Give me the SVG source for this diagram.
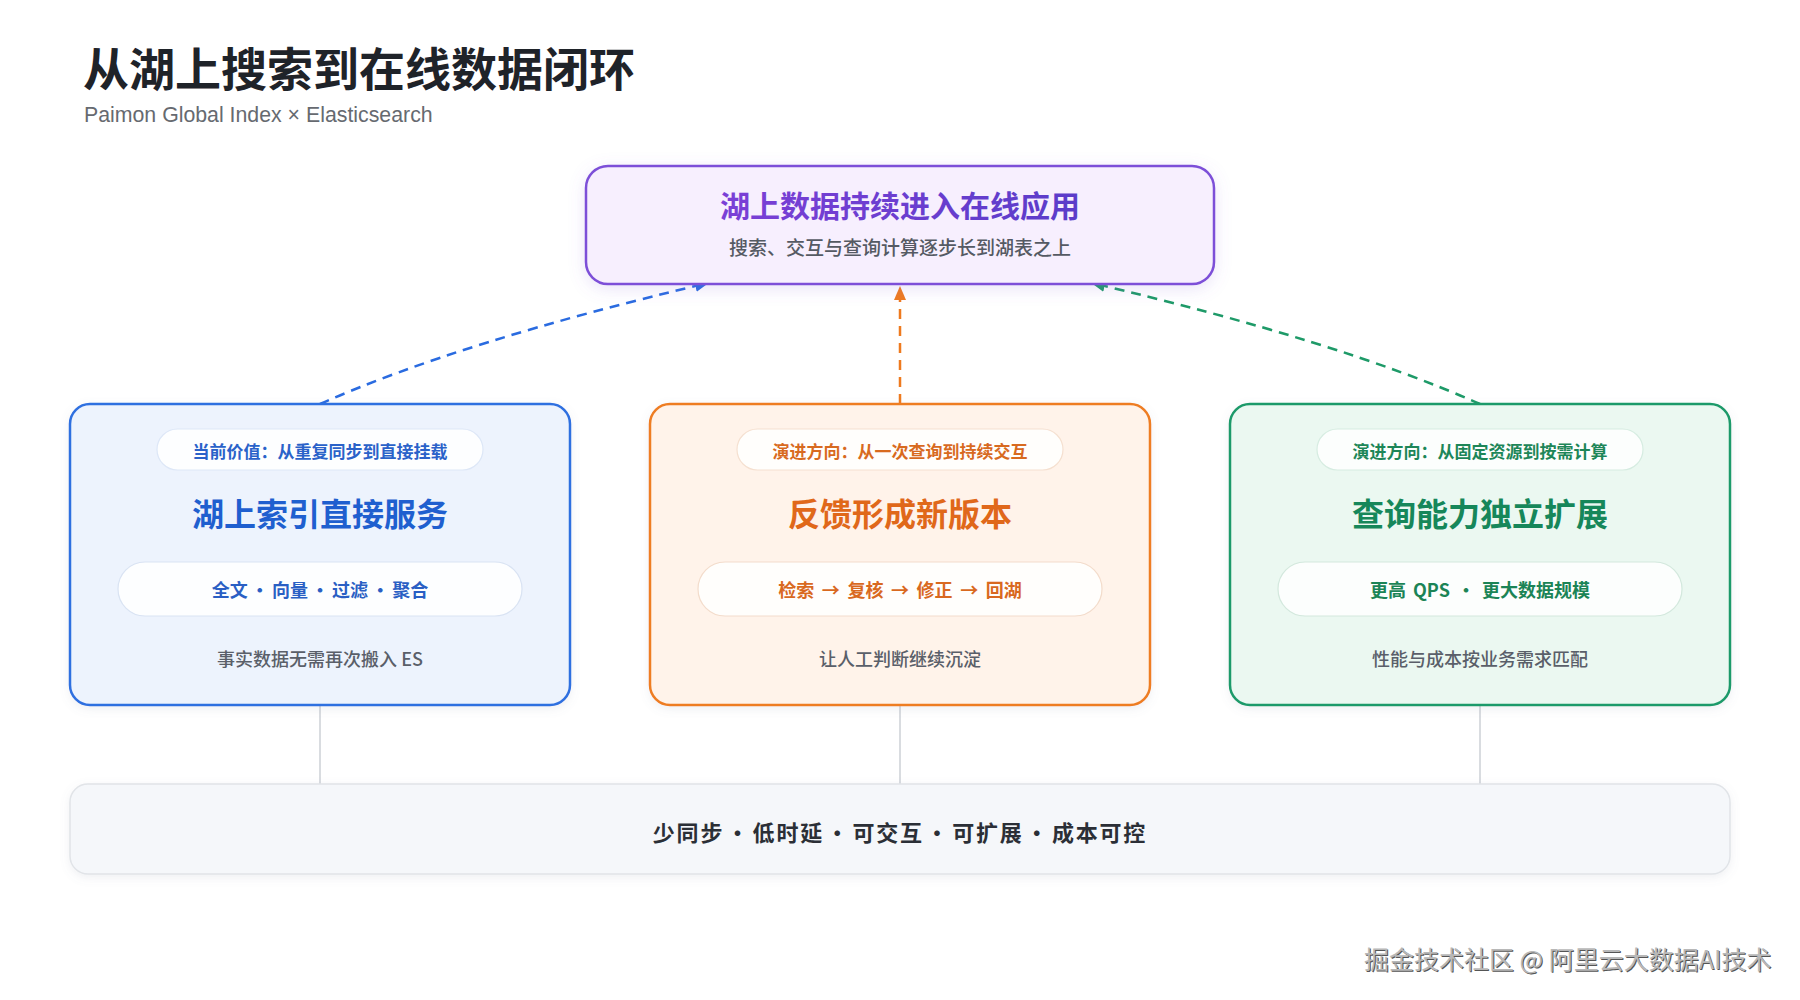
<svg xmlns="http://www.w3.org/2000/svg" width="1800" height="1000" viewBox="0 0 1800 1000">
  <defs>
    <style>
      text { font-family: "Noto Sans CJK SC", "Noto Sans", sans-serif; dominant-baseline: central; text-anchor: middle; }
      .title { font-size: 46px; font-weight: 700; fill: #1f2329; text-anchor: start; }
      .subtitle { font-family: "Liberation Sans", "Noto Sans CJK SC", sans-serif; font-size: 21.3px; fill: #666a70; text-anchor: start; }
      .pill1 { font-size: 17px; font-weight: 600; }
      .head { font-size: 32px; font-weight: 700; }
      .pill2 { font-size: 18px; font-weight: 600; word-spacing: 3px; }
      .foot { font-size: 18px; font-weight: 500; fill: #5a5f69; }
      .card { stroke-width: 2.5; }
      .pill { fill: #ffffff; fill-opacity: 0.85; stroke-width: 1.2; }
      .dash { fill: none; stroke-width: 2.5; stroke-dasharray: 10 7; }
      .vline { stroke: #cdd1d6; stroke-width: 1.5; }
      .wm { font-size: 25px; font-weight: 400; text-anchor: start; }
    </style>
    <filter id="shadow" x="-10%" y="-20%" width="120%" height="150%">
      <feDropShadow dx="0" dy="4" stdDeviation="8" flood-color="#8c6bd8" flood-opacity="0.18"/>
    </filter>
    <filter id="soft" x="-10%" y="-10%" width="120%" height="130%">
      <feDropShadow dx="0" dy="3" stdDeviation="5" flood-color="#7a8599" flood-opacity="0.12"/>
    </filter>
    <linearGradient id="gPurple" x1="0" y1="0" x2="1" y2="0">
      <stop offset="0" stop-color="#7b3fd6"/>
      <stop offset="1" stop-color="#5b3cc9"/>
    </linearGradient>
    <marker id="arBlue" viewBox="0 0 14 12" refX="13" refY="6" markerWidth="14" markerHeight="12" markerUnits="userSpaceOnUse" orient="auto">
      <path d="M0,0 L14,6 L0,12 Z" fill="#2a6be0"/>
    </marker>
    <marker id="arOrange" viewBox="0 0 14 12" refX="13" refY="6" markerWidth="14" markerHeight="12" markerUnits="userSpaceOnUse" orient="auto">
      <path d="M0,0 L14,6 L0,12 Z" fill="#ee7a1e"/>
    </marker>
    <marker id="arGreen" viewBox="0 0 14 12" refX="13" refY="6" markerWidth="14" markerHeight="12" markerUnits="userSpaceOnUse" orient="auto">
      <path d="M0,0 L14,6 L0,12 Z" fill="#1e9a68"/>
    </marker>
  </defs>

  <rect x="0" y="0" width="1800" height="1000" fill="#ffffff"/>

  <g id="header">
    <text class="title" x="83" y="66">从湖上搜索到在线数据闭环</text>
    <text class="subtitle" x="84" y="115">Paimon Global Index × Elasticsearch</text>
  </g>

  <g id="connectors">
    <path class="dash" d="M320,404 Q462,341 708,283" stroke="#2a6be0" marker-end="url(#arBlue)"/>
    <path class="dash" d="M900,404 L900,287" stroke="#ee7a1e" marker-end="url(#arOrange)"/>
    <path class="dash" d="M1480,404 Q1338,341 1092,283" stroke="#1e9a68" marker-end="url(#arGreen)"/>
    <line class="vline" x1="320" y1="706" x2="320" y2="784"/>
    <line class="vline" x1="900" y1="706" x2="900" y2="784"/>
    <line class="vline" x1="1480" y1="706" x2="1480" y2="784"/>
  </g>

  <g id="goal">
    <rect x="586" y="166" width="628" height="118" rx="22" fill="#f7effe" stroke="#7d4fd8" stroke-width="2.5" filter="url(#shadow)"/>
    <text x="900" y="204" font-size="30" font-weight="700" fill="url(#gPurple)">湖上数据持续进入在线应用</text>
    <text x="900" y="246" font-size="19" font-weight="500" fill="#555a63">搜索、交互与查询计算逐步长到湖表之上</text>
  </g>

  <g id="card-left">
    <rect class="card" x="70" y="404" width="500" height="301" rx="20" fill="#edf3fd" stroke="#2f6fe0" filter="url(#soft)"/>
    <rect class="pill" x="157" y="429" width="326" height="41" rx="20.5" stroke="#dde7f7"/>
    <text class="pill1" x="320" y="450" fill="#2a62c9">当前价值：从重复同步到直接挂载</text>
    <text class="head" x="320" y="512" fill="#1f5fcf">湖上索引直接服务</text>
    <rect class="pill" x="118" y="562" width="404" height="54" rx="27" stroke="#d9e3f3"/>
    <text class="pill2" x="320" y="589" fill="#2a5fc4" style="word-spacing:-1px">全文 · 向量 · 过滤 · 聚合</text>
    <text class="foot" x="320" y="658">事实数据无需再次搬入 ES</text>
  </g>

  <g id="card-middle">
    <rect class="card" x="650" y="404" width="500" height="301" rx="20" fill="#fff3ea" stroke="#ee7d24" filter="url(#soft)"/>
    <rect class="pill" x="737" y="429" width="326" height="41" rx="20.5" stroke="#f5e0d0"/>
    <text class="pill1" x="900" y="450" fill="#d86a1f">演进方向：从一次查询到持续交互</text>
    <text class="head" x="900" y="512" fill="#e0681a">反馈形成新版本</text>
    <rect class="pill" x="698" y="562" width="404" height="54" rx="27" stroke="#f3dccb"/>
    <text class="pill2" x="900" y="589" fill="#d9691f" style="word-spacing:3.5px">检索 → 复核 → 修正 → 回湖</text>
    <text class="foot" x="900" y="658">让人工判断继续沉淀</text>
  </g>

  <g id="card-right">
    <rect class="card" x="1230" y="404" width="500" height="301" rx="20" fill="#ebf8f1" stroke="#1f9a6a" filter="url(#soft)"/>
    <rect class="pill" x="1317" y="429" width="326" height="41" rx="20.5" stroke="#d6ece1"/>
    <text class="pill1" x="1480" y="450" fill="#1d8658">演进方向：从固定资源到按需计算</text>
    <text class="head" x="1480" y="512" fill="#16875a">查询能力独立扩展</text>
    <rect class="pill" x="1278" y="562" width="404" height="54" rx="27" stroke="#d3e8dd"/>
    <text class="pill2" x="1480" y="589" fill="#1b8456">更高 QPS · 更大数据规模</text>
    <text class="foot" x="1480" y="658">性能与成本按业务需求匹配</text>
  </g>

  <g id="summary">
    <rect x="70" y="784" width="1660" height="90" rx="18" fill="#f5f7fa" stroke="#e1e4e8" stroke-width="1.5" filter="url(#soft)"/>
    <text x="900" y="831" font-size="22" font-weight="600" fill="#2b2f36" style="letter-spacing:1.8px;word-spacing:-4.5px">少同步 · 低时延 · 可交互 · 可扩展 · 成本可控</text>
  </g>

  <g id="watermark">
    <text class="wm" x="1365" y="959" fill="#555555">掘金技术社区 @ 阿里云大数据AI技术</text>
    <text class="wm" x="1364" y="958" fill="#b8b8b8">掘金技术社区 @ 阿里云大数据AI技术</text>
  </g>
</svg>
